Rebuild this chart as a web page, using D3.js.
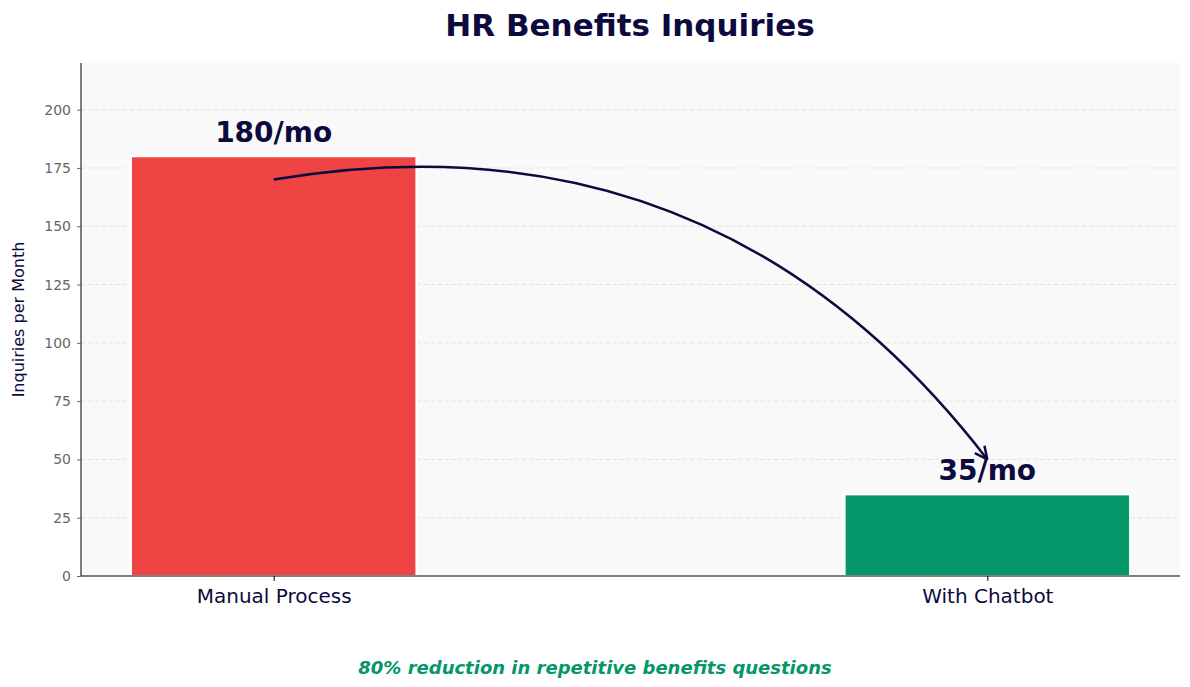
<!DOCTYPE html>
<html><head><meta charset="utf-8">
<script src="https://cdn.jsdelivr.net/npm/d3@7"></script>
<style>body{margin:0;background:#fff}svg{font-family:"DejaVu Sans",sans-serif}</style>
</head><body><svg id="c" width="1190" height="687"></svg>
<script>
const categories = ["Manual Process", "With Chatbot"];
const values = [180, 35];
const valueLabels = ["180/mo", "35/mo"];
const colors = ["#ef4444", "#059669"];
const yTicks = [0, 25, 50, 75, 100, 125, 150, 175, 200];
const arrowFrom = [0, 170];
const arrowTo = [1, 50];

const svg = d3.select("#c");
const L = 81, R = 1180, T = 63, B = 576;
const x = d3.scaleLinear().domain([-0.27, 1.27]).range([L, R]);
const y = d3.scaleLinear().domain([0, 220]).range([B, T]);
const navy = "#0d0a3d";

svg.append("rect").attr("x", L).attr("y", T).attr("width", R - L).attr("height", B - T).attr("fill", "#f9f9f9");
svg.append("g").selectAll("line").data(yTicks.slice(1)).join("line")
  .attr("x1", L).attr("x2", R).attr("y1", d => y(d)).attr("y2", d => y(d))
  .attr("stroke", "#e3e3e3").attr("stroke-dasharray", "4,3");

const bw = x(0.4) - x(0);
svg.append("g").selectAll("rect").data(values).join("rect")
  .attr("x", (d, i) => x(i) - bw / 2).attr("width", bw)
  .attr("y", d => y(d)).attr("height", d => y(0) - y(d))
  .attr("fill", (d, i) => colors[i]).attr("stroke", "#fff").attr("stroke-width", 2);

svg.append("g").selectAll("text").data(valueLabels).join("text")
  .attr("x", (d, i) => x(i)).attr("y", (d, i) => y(values[i]) - 14)
  .attr("text-anchor", "middle").attr("font-weight", "bold").attr("font-size", 28)
  .attr("fill", navy).text(d => d);

// axes
const ya = svg.append("g").attr("transform", `translate(${L},0)`)
  .call(d3.axisLeft(y).tickValues(yTicks).tickSize(4).tickPadding(6));
ya.select(".domain").attr("d", `M0,${T}V${B}`);
ya.selectAll("text").attr("font-size", 14).attr("fill", "#666").attr("font-family", "DejaVu Sans");
ya.selectAll("line").attr("stroke", "#666");
const xa = svg.append("g").attr("transform", `translate(0,${B})`)
  .call(d3.axisBottom(x).tickValues([0, 1]).tickFormat((d, i) => categories[i]).tickSize(5).tickPadding(8));
xa.select(".domain").attr("d", `M${L},0H${R}`);
xa.selectAll("text").attr("font-size", 20).attr("fill", navy).attr("font-family", "DejaVu Sans");

// arrow (arc3 style)
const p1 = [x(arrowFrom[0]), y(arrowFrom[1])], p2 = [x(arrowTo[0]), y(arrowTo[1])];
const dx = p2[0] - p1[0], dy = -(p2[1] - p1[1]), f = -0.3;
const cx = (p1[0] + p2[0]) / 2 + f * dy, cyUp = -(p1[1] + p2[1]) / 2 - f * dx;
const cpt = [cx, -cyUp];
svg.append("path").attr("d", `M${p1[0]},${p1[1]}Q${cpt[0]},${cpt[1]} ${p2[0]},${p2[1]}`)
  .attr("fill", "none").attr("stroke", navy).attr("stroke-width", 2.5);
const ang = Math.atan2(p2[1] - cpt[1], p2[0] - cpt[0]);
const hl = 14;
[0.45, -0.45].forEach(a => {
  svg.append("line").attr("x1", p2[0]).attr("y1", p2[1])
    .attr("x2", p2[0] - hl * Math.cos(ang + a)).attr("y2", p2[1] - hl * Math.sin(ang + a))
    .attr("stroke", navy).attr("stroke-width", 2.5);
});

svg.append("text").attr("x", 630).attr("y", 36).attr("text-anchor", "middle")
  .attr("font-size", 31).attr("font-weight", "bold").attr("fill", navy).text("HR Benefits Inquiries");
svg.append("text").attr("transform", `translate(24,${(T + B) / 2}) rotate(-90)`).attr("text-anchor", "middle")
  .attr("font-size", 16).attr("fill", navy).text("Inquiries per Month");
svg.append("text").attr("x", 595).attr("y", 674).attr("text-anchor", "middle")
  .attr("font-size", 18).attr("font-weight", "bold").attr("font-style", "italic").attr("fill", "#059669")
  .text("80% reduction in repetitive benefits questions");
</script></body></html>
